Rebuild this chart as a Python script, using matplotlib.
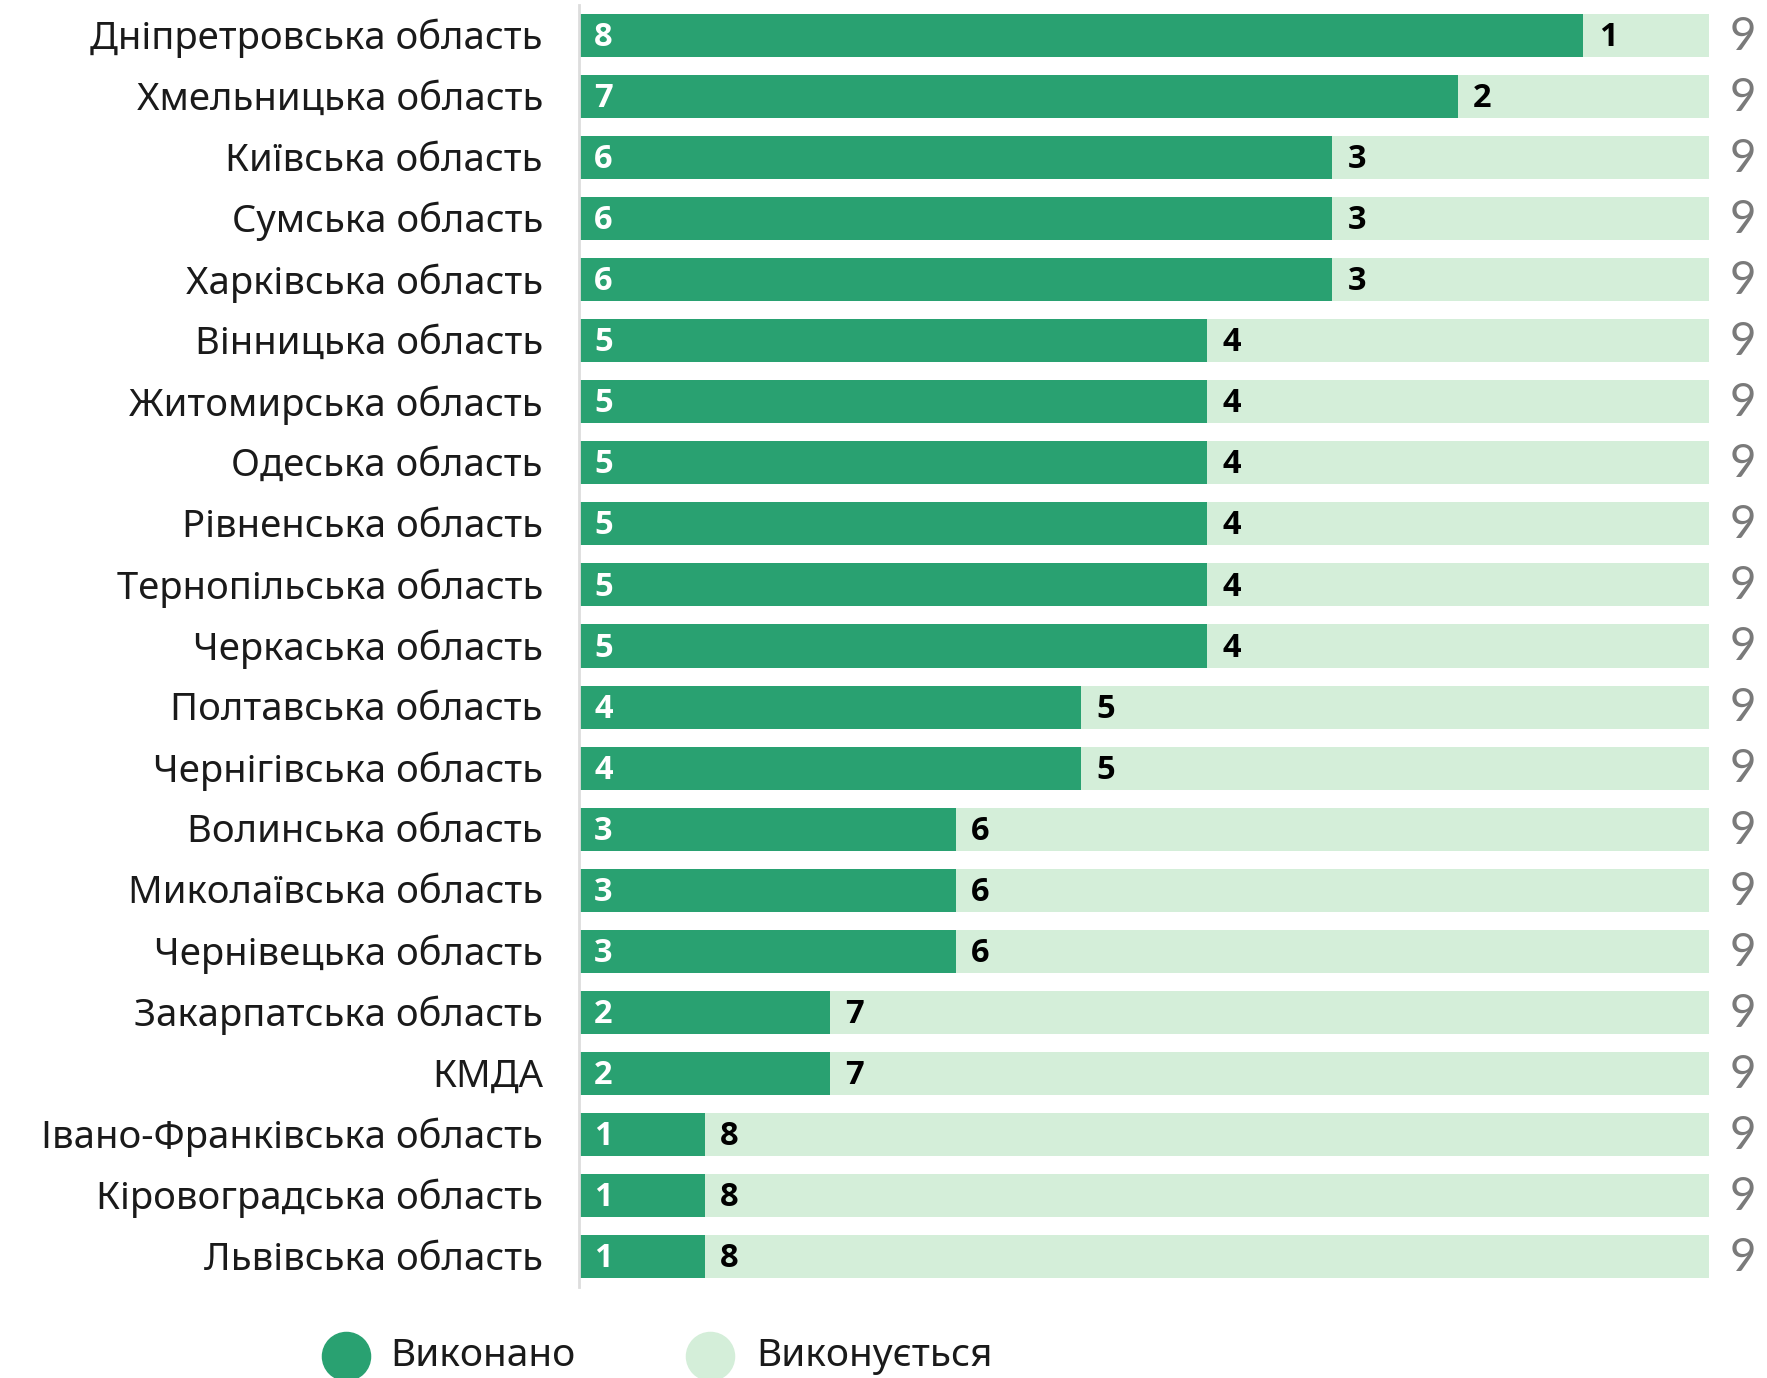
import matplotlib.pyplot as plt

# Дані
regions = [
    'Дніпретровська область', 'Хмельницька область', 'Київська область',
    'Сумська область', 'Харківська область', 'Вінницька область',
    'Житомирська область', 'Одеська область', 'Рівненська область',
    'Тернопільська область', 'Черкаська область', 'Полтавська область',
    'Чернігівська область', 'Волинська область', 'Миколаївська область',
    'Чернівецька область', 'Закарпатська область', 'КМДА',
    'Івано-Франківська область', 'Кіровоградська область', 'Львівська область',
]
done = [8, 7, 6, 6, 6, 5, 5, 5, 5, 5, 5, 4, 4, 3, 3, 3, 2, 2, 1, 1, 1]
in_progress = [1, 2, 3, 3, 3, 4, 4, 4, 4, 4, 4, 5, 5, 6, 6, 6, 7, 7, 8, 8, 8]
totals = [d + p for d, p in zip(done, in_progress)]
legend_labels = ['Виконано', 'Виконується']

DARK = '#29a171'
LIGHT = '#d4eed9'

W, H = 1767, 1378
fig = plt.figure(figsize=(W / 100, H / 100), dpi=100)
ax = fig.add_axes([579 / W, (H - 1287) / H, 1130 / W, 1282 / H])

y = list(range(len(regions)))
ax.barh(y, done, height=0.705, color=DARK)
ax.barh(y, in_progress, left=done, height=0.705, color=LIGHT)

ax.set_xlim(0, 9)
ax.set_ylim(len(regions) - 0.5, -0.5)
ax.set_yticks([])
ax.set_xticks([])
for s in ['top', 'right', 'bottom']:
    ax.spines[s].set_visible(False)
ax.spines['left'].set_color('#dddddd')
ax.spines['left'].set_linewidth(2)

# Назви областей і підписи значень
for i in y:
    ax.annotate(regions[i], xy=(0, i), xytext=(-26, 1), textcoords='offset points',
                ha='right', va='center_baseline', fontsize=27.5,
                family='Noto Sans', color='#1a1a1a', annotation_clip=False)
    ax.annotate(str(done[i]), xy=(0, i), xytext=(11, -1.5), textcoords='offset points',
                ha='left', va='center', fontsize=23.5, fontweight='bold',
                family='Open Sans', color='white')
    ax.annotate(str(in_progress[i]), xy=(done[i], i), xytext=(11, -1.5),
                textcoords='offset points', ha='left', va='center', fontsize=23.5,
                fontweight='bold', family='Open Sans', color='black')
    ax.annotate(str(totals[i]), xy=(9, i), xytext=(15, -1), textcoords='offset points',
                ha='left', va='center', fontsize=33, fontweight='normal',
                family='Lato', color='#7a7a7a', annotation_clip=False)

# Легенда
lg = fig.add_axes([0, 0, 1, 1])
lg.set_xlim(0, W)
lg.set_ylim(H, 0)
lg.axis('off')
for cx, tx, col, lab in [(346, 390, DARK, legend_labels[0]),
                         (710, 756, LIGHT, legend_labels[1])]:
    lg.scatter([cx], [1356], s=1200, color=col, clip_on=False)
    lg.text(tx, 1366, lab, fontsize=28, family='Noto Sans', color='#1a1a1a',
            ha='left', va='baseline')

plt.savefig('out.png', dpi=100)
